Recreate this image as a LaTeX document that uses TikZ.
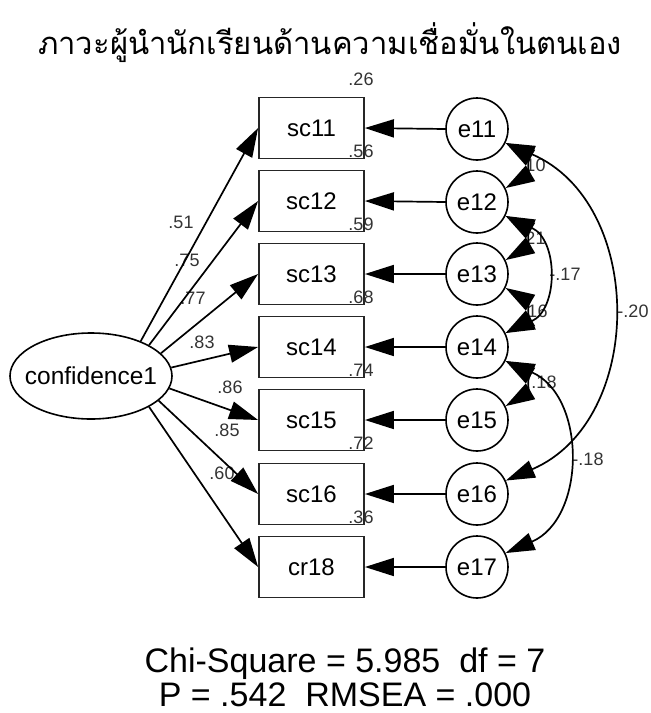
\documentclass[tikz,border=0pt]{standalone}
\usepackage{fontspec}
\setmainfont{Liberation Sans}
\newfontfamily\thaifont[Script=Thai]{Loma}
\usetikzlibrary{arrows.meta,shapes.geometric}
\begin{document}
\begin{tikzpicture}[x=1pt,y=-1pt,
  box/.style={draw=black!85,line width=1.8pt,minimum width=105pt,minimum height=61pt,inner sep=0pt,font=\fontsize{24}{27}\selectfont},
  err/.style={draw,circle,line width=1.6pt,minimum size=62pt,inner sep=0pt,font=\fontsize{24}{27}\selectfont},
  lat/.style={draw,ellipse,line width=1.6pt,minimum width=162pt,minimum height=86pt,inner ysep=0pt,inner xsep=-10pt,font=\fontsize{24.5}{27}\selectfont},
  arr/.style={line width=1.7pt,-{Triangle[length=29pt,width=18pt]}},
  cov/.style={line width=1.7pt,{Triangle[length=29pt,width=18pt]}-{Triangle[length=29pt,width=18pt]}},
  lbl/.style={font=\fontsize{18}{20}\selectfont,inner sep=0pt,text=black!80},
  big/.style={font=\fontsize{34}{38}\selectfont,inner sep=0pt,anchor=base},
]
\useasboundingbox (0,0) rectangle (651,713);

\node[font=\thaifont\fontsize{31}{36}\selectfont,inner sep=0pt,anchor=base] (title) at (330,54) {ภาวะผู้นำนักเรียนด้านความเชื่อมั่นในตนเอง};

% observed variables
\node[box] (sc11) at (311.5,128) {sc11};
\node[box] (sc12) at (311.5,201) {sc12};
\node[box] (sc13) at (311.5,274) {sc13};
\node[box] (sc14) at (311.5,347) {sc14};
\node[box] (sc15) at (311.5,420) {sc15};
\node[box] (sc16) at (311.5,494) {sc16};
\node[box] (cr18) at (311.5,567) {cr18};

% errors
\node[err] (e11) at (477,129) {e11};
\node[err] (e12) at (477,202) {e12};
\node[err] (e13) at (477,274) {e13};
\node[err] (e14) at (477,347) {e14};
\node[err] (e15) at (477,420) {e15};
\node[err] (e16) at (477,494) {e16};
\node[err] (e17) at (477,567) {e17};

% latent
\node[lat] (conf) at (91,376) {confidence1};

% labels (drawn before arrows so arrowheads overlay them)
\node[lbl] (r11) at (361,79) {.26};
\node[lbl] (r12) at (361,151) {.56};
\node[lbl] (r13) at (361,224) {.59};
\node[lbl] (r14) at (361,297) {.68};
\node[lbl] (r15) at (361,370) {.74};
\node[lbl] (r16) at (361,443) {.72};
\node[lbl] (r18) at (361,517) {.36};

\node[lbl] (l11) at (181,222) {.51};
\node[lbl] (l12) at (187,260) {.75};
\node[lbl] (l13) at (193,298) {.77};
\node[lbl] (l14) at (202,342) {.83};
\node[lbl] (l15) at (230,387) {.86};
\node[lbl] (l16) at (227,430) {.85};
\node[lbl] (l18) at (222,473) {.60};

\node[lbl] (c1112) at (533,165) {.10};
\node[lbl] (c1213) at (533,238) {.21};
\node[lbl] (c1314) at (535,311) {.16};
\node[lbl] (c1415) at (544,382) {.18};
\node[lbl] (c1214) at (565,274) {-.17};
\node[lbl] (c1116) at (633,311) {-.20};
\node[lbl] (c1417) at (588,459) {-.18};

% loadings
\draw[arr] (conf.35) -- (sc11.west);
\draw[arr] (conf.28) -- (sc12.west);
\draw[arr] (conf.18) -- (sc13.west);
\draw[arr] (conf.6) -- (sc14.west);
\draw[arr] (conf.-9) -- (sc15.west);
\draw[arr] (conf.-20) -- (sc16.west);
\draw[arr] (conf.-28) -- (cr18.west);

% error paths
\draw[arr] (e11.west) -- (sc11.east);
\draw[arr] (e12.west) -- (sc12.east);
\draw[arr] (e13.west) -- (sc13.east);
\draw[arr] (e14.west) -- (sc14.east);
\draw[arr] (e15.west) -- (sc15.east);
\draw[arr] (e16.west) -- (sc16.east);
\draw[arr] (e17.west) -- (cr18.east);

% covariances
\draw[cov] (e11.-26) .. controls +(22,13) and +(22,-13) .. (e12.26);
\draw[cov] (e12.-26) .. controls +(22,13) and +(22,-13) .. (e13.26);
\draw[cov] (e13.-26) .. controls +(22,13) and +(22,-13) .. (e14.26);
\draw[cov] (e14.-26) .. controls +(22,13) and +(22,-13) .. (e15.26);
\draw[cov] (e12.-26) .. controls +(53,24) and +(53,-24) .. (e14.26);
\draw[cov] (e11.-26) .. controls +(140,60) and +(140,-60) .. (e16.25);
\draw[cov] (e14.-26) .. controls +(81,35) and +(81,-35) .. (e17.26);

% fit statistics
\node[big] (chi) at (345,672) {Chi-Square = 5.985\ \ df = 7};
\node[big] (pval) at (345,706) {P = .542\ \ RMSEA = .000};
\end{tikzpicture}
\end{document}
